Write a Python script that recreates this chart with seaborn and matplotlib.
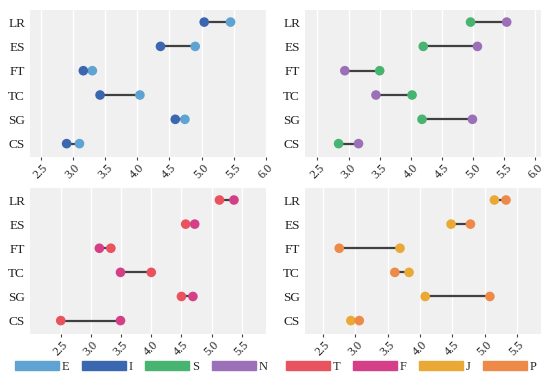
import pandas as pd
import seaborn as sns
import matplotlib.pyplot as plt
from matplotlib.patches import Patch

# dimensions, top row of each panel first
dims = ['LR', 'ES', 'FT', 'TC', 'SG', 'CS']

# scores per type
E = [5.45, 4.90, 3.30, 4.04, 4.74, 3.10]
I = [5.04, 4.36, 3.16, 3.42, 4.59, 2.90]
S = [4.96, 4.20, 3.50, 4.02, 4.18, 2.84]
N = [5.54, 5.07, 2.94, 3.44, 4.99, 3.16]
T = [5.13, 4.57, 3.33, 4.00, 4.50, 2.50]
F = [5.37, 4.72, 3.14, 3.49, 4.69, 3.49]
J = [5.15, 4.48, 3.69, 3.83, 4.08, 2.93]
P = [5.33, 4.78, 2.75, 3.61, 5.08, 3.06]

colors = {
    'E': '#5ea3d2', 'I': '#3b67b1',
    'S': '#47b571', 'N': '#9b70b8',
    'T': '#e9535f', 'F': '#d53f88',
    'J': '#e9a934', 'P': '#ed8a47',
}

top_ticks = [2.5, 3.0, 3.5, 4.0, 4.5, 5.0, 5.5, 6.0]
bottom_ticks = [2.5, 3.0, 3.5, 4.0, 4.5, 5.0, 5.5]

sns.set_theme(style='darkgrid', rc={
    'axes.facecolor': '#f0f0f0',
    'grid.color': 'white',
    'grid.linewidth': 1.0,
})
plt.rcParams['font.family'] = ['Liberation Serif', 'DejaVu Serif']

fig = plt.figure(figsize=(5.5, 3.82), dpi=100)
panels = [
    # (rect, pair, xlim, ticks)
    ([0.0545, 0.589, 0.429, 0.385], ('E', 'I'), (2.33, 6.0), top_ticks),
    ([0.5545, 0.589, 0.429, 0.385], ('S', 'N'), (2.30, 6.09), top_ticks),
    ([0.0545, 0.126, 0.429, 0.382], ('T', 'F'), (1.99, 5.90), bottom_ticks),
    ([0.5545, 0.126, 0.429, 0.382], ('J', 'P'), (2.22, 5.87), bottom_ticks),
]
values = {'E': E, 'I': I, 'S': S, 'N': N, 'T': T, 'F': F, 'J': J, 'P': P}

for rect, pair, xlim, ticks in panels:
    ax = fig.add_axes(rect)
    a, b = pair
    df = pd.DataFrame({
        'dim': dims * 2,
        'score': values[a] + values[b],
        'type': [a] * len(dims) + [b] * len(dims),
    })
    sns.scatterplot(data=df, x='score', y='dim', hue='type',
                    palette={a: colors[a], b: colors[b]},
                    s=48, linewidth=0, legend=False, zorder=3, ax=ax)
    lo = [min(x, y) for x, y in zip(values[a], values[b])]
    hi = [max(x, y) for x, y in zip(values[a], values[b])]
    ax.hlines(dims, lo, hi, color='#404040', lw=1.6, zorder=2)
    ax.set_xlim(*xlim)
    ax.set_ylim(len(dims) - 0.45, -0.5)
    ax.set_xticks(ticks)
    ax.set_xticklabels([f'{t:.1f}' for t in ticks], rotation=45, ha='center')
    ax.grid(axis='y', visible=False)
    ax.tick_params(axis='x', bottom=True, length=2, width=0.8, color='#444444',
                   labelsize=8.8, pad=1.5, labelcolor='#222222')
    ax.tick_params(axis='y', length=0, labelsize=9.5, pad=3.5, colors='#222222')
    ax.set_xlabel('')
    ax.set_ylabel('')
    for s in ax.spines.values():
        s.set_visible(False)

leg_kw = dict(loc='center', ncol=4, frameon=False, fontsize=9,
              handlelength=3.5, handleheight=0.8, handletextpad=0.25,
              columnspacing=1.0, borderaxespad=0)
fig.legend(handles=[Patch(color=colors[k], label=k) for k in ['E', 'I', 'S', 'N']],
           bbox_to_anchor=(0.257, 0.04), **leg_kw)
fig.legend(handles=[Patch(color=colors[k], label=k) for k in ['T', 'F', 'J', 'P']],
           bbox_to_anchor=(0.748, 0.04), **leg_kw)

fig.savefig('out.png', dpi=100, facecolor='white')
